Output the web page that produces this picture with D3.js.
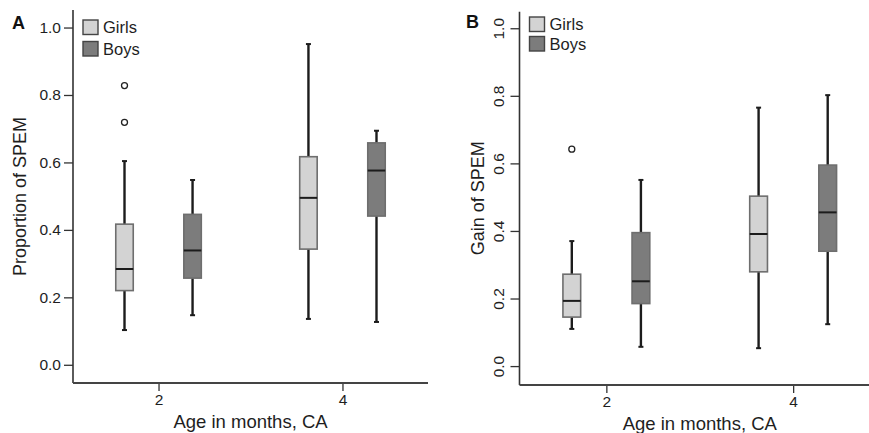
<!DOCTYPE html>
<html>
<head>
<meta charset="utf-8">
<script src="https://cdn.jsdelivr.net/npm/d3@7"></script>
<style>
  html, body { margin: 0; padding: 0; background: #fff; }
  svg { display: block; font-family: "Liberation Sans", Arial, Helvetica, sans-serif; }
  svg text { font-family: "Liberation Sans", Arial, Helvetica, sans-serif; }
</style>
</head>
<body>
<svg id="chart" width="869" height="433"></svg>
<script>
// ---------------- DATA ----------------
const ages = [2, 4];
const groups = ["Girls", "Boys"];
const yTicks = [0.0, 0.2, 0.4, 0.6, 0.8, 1.0];

// [lower whisker, Q1, median, Q3, upper whisker] per age
const propGirls = [[0.103, 0.220, 0.284, 0.417, 0.604], [0.136, 0.343, 0.495, 0.617, 0.951]];
const propBoys  = [[0.147, 0.257, 0.339, 0.446, 0.548], [0.127, 0.441, 0.576, 0.658, 0.694]];
const propGirlsOutliers = [[0.719, 0.828], []];
const propBoysOutliers  = [[], []];

const gainGirls = [[0.110, 0.145, 0.193, 0.272, 0.370], [0.053, 0.279, 0.391, 0.503, 0.765]];
const gainBoys  = [[0.057, 0.185, 0.251, 0.395, 0.551], [0.124, 0.340, 0.455, 0.595, 0.802]];
const gainGirlsOutliers = [[0.642], []];
const gainBoysOutliers  = [[], []];

const fills = { Girls: "#d3d3d3", Boys: "#7c7c7c" };

// ---------------- DRAW ----------------
const svg = d3.select("#chart");
const FONT = '"Liberation Sans", Arial, Helvetica, sans-serif';

function panel(opt) {
  const g = svg.append("g");
  const x = d3.scaleLinear().domain([1.07, 4.93]).range(opt.xRange);
  const y = d3.scaleLinear().domain(opt.yDomain).range(opt.yRange);
  const x0 = opt.xRange[0];
  const yBottom = opt.yRange[0];

  // y axis
  const yAxis = d3.axisLeft(y).tickValues(yTicks).tickFormat(d3.format(".1f")).tickSize(9).tickPadding(opt.rotTicks ? 7 : 3);
  const ya = g.append("g").attr("transform", `translate(${x0},0)`).call(yAxis)
    .attr("font-family", FONT).attr("font-size", 15.5);
  ya.select(".domain").remove();
  ya.selectAll(".tick line").attr("stroke", "#333").attr("stroke-width", 1.3);
  ya.selectAll(".tick text").attr("fill", "#1e1e1e");
  if (opt.rotTicks) {
    ya.selectAll(".tick text")
      .attr("transform", "rotate(-90)")
      .attr("x", 0).attr("y", -16).attr("dy", 0)
      .attr("text-anchor", "middle");
  }
  g.append("line").attr("x1", x0).attr("x2", x0).attr("y1", opt.yTop).attr("y2", yBottom)
    .attr("stroke", "#333").attr("stroke-width", 1.6);

  // x axis
  const xAxis = d3.axisBottom(x).tickValues(ages).tickFormat(d3.format("d")).tickSize(8).tickPadding(3);
  const xa = g.append("g").attr("transform", `translate(0,${yBottom})`).call(xAxis)
    .attr("font-family", FONT).attr("font-size", 15.5);
  xa.select(".domain").remove();
  xa.selectAll(".tick line").attr("stroke", "#333").attr("stroke-width", 1.3);
  xa.selectAll(".tick text").attr("fill", "#1e1e1e");
  g.append("line").attr("x1", x0).attr("x2", opt.xRange[1]).attr("y1", yBottom).attr("y2", yBottom)
    .attr("stroke", "#444").attr("stroke-width", 1.8);

  // boxes
  const offsets = { Girls: -0.37, Boys: 0.37 };
  const halfW = 0.095;
  const series = [
    { name: "Girls", stats: opt.girls, out: opt.girlsOut },
    { name: "Boys",  stats: opt.boys,  out: opt.boysOut }
  ];
  series.forEach(s => {
    ages.forEach((age, i) => {
      const [lo, q1, med, q3, hi] = s.stats[i];
      const cx = x(age + offsets[s.name]);
      const bw = x(age + offsets[s.name] + halfW) - cx;
      // whiskers
      g.append("line").attr("x1", cx).attr("x2", cx).attr("y1", y(hi)).attr("y2", y(q3))
        .attr("stroke", "#1c1c1c").attr("stroke-width", 2.4);
      g.append("line").attr("x1", cx).attr("x2", cx).attr("y1", y(q1)).attr("y2", y(lo))
        .attr("stroke", "#1c1c1c").attr("stroke-width", 2.4);
      [hi, lo].forEach(v => g.append("line").attr("x1", cx - 2.5).attr("x2", cx + 2.5)
        .attr("y1", y(v)).attr("y2", y(v)).attr("stroke", "#1c1c1c").attr("stroke-width", 2));
      // box
      g.append("rect").attr("x", cx - bw).attr("width", 2 * bw)
        .attr("y", y(q3)).attr("height", y(q1) - y(q3))
        .attr("fill", fills[s.name]).attr("stroke", "#6e6e6e").attr("stroke-width", 1.6);
      g.append("line").attr("x1", cx - bw).attr("x2", cx + bw).attr("y1", y(med)).attr("y2", y(med))
        .attr("stroke", "#1c1c1c").attr("stroke-width", 2);
      // outliers
      s.out[i].forEach(v => g.append("circle").attr("cx", cx).attr("cy", y(v)).attr("r", 3)
        .attr("fill", "#fff").attr("stroke", "#222").attr("stroke-width", 1.3));
    });
  });

  // legend
  groups.forEach((name, i) => {
    const ly = opt.legY + i * opt.legStep;
    g.append("rect").attr("x", opt.legX).attr("y", ly).attr("width", 15).attr("height", 14.5)
      .attr("fill", fills[name]).attr("stroke", "#444").attr("stroke-width", 1.4);
    g.append("text").attr("x", opt.legX + 20).attr("y", ly + 13).text(name)
      .attr("fill", "#1e1e1e").style("font-size", "16.5px");
  });

  // titles
  g.append("text").attr("x", (x0 + opt.xTitleRight) / 2).attr("y", opt.xTitleY)
    .attr("text-anchor", "middle").attr("fill", "#1e1e1e").style("font-size", "18.5px").text("Age in months, CA");
  g.append("text").attr("transform", `translate(${opt.yTitleX},${(opt.yTop + yBottom) / 2}) rotate(-90)`)
    .attr("text-anchor", "middle").attr("fill", "#1e1e1e").style("font-size", "18px").text(opt.yTitle);
  g.append("text").attr("x", opt.labX).attr("y", opt.labY).text(opt.label)
    .attr("fill", "#111").style("font-size", "18px").style("font-weight", "bold");
}

panel({
  xRange: [73, 428], yDomain: [-0.054, 1.052], yRange: [383, 10], yTop: 10,
  girls: propGirls, boys: propBoys, girlsOut: propGirlsOutliers, boysOut: propBoysOutliers,
  rotTicks: false, legX: 83, legY: 20, legStep: 21.5,
  xTitleRight: 428, xTitleY: 428, yTitleX: 26, yTitle: "Proportion of SPEM",
  label: "A", labX: 12, labY: 29
});

panel({
  xRange: [519.5, 880], yDomain: [-0.056, 1.049], yRange: [385, 11.7], yTop: 11.7,
  girls: gainGirls, boys: gainBoys, girlsOut: gainGirlsOutliers, boysOut: gainBoysOutliers,
  rotTicks: true, legX: 529.5, legY: 17, legStep: 19.5,
  xTitleRight: 880, xTitleY: 429.5, yTitleX: 483.5, yTitle: "Gain of SPEM",
  label: "B", labX: 466, labY: 28
});
</script>
</body>
</html>
